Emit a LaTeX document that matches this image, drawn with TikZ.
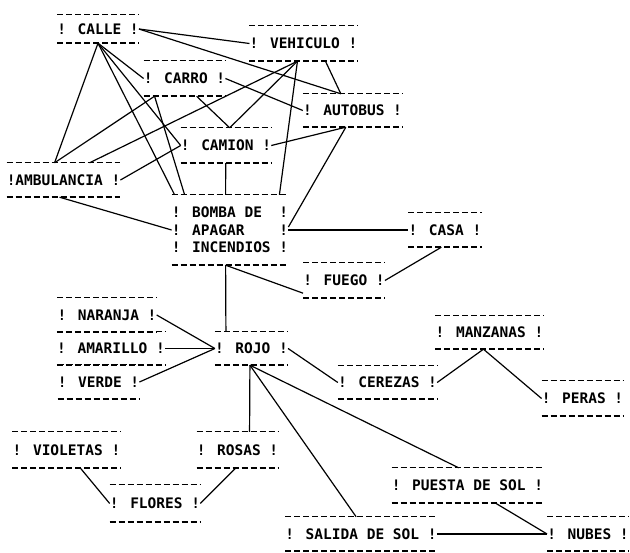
\documentclass[tikz,border=0pt]{standalone}
\usepackage{fontspec}
\newfontfamily\dotfont{DejaVu Sans Mono}
\begin{document}
\begin{tikzpicture}[x=1pt,y=-1pt,
  term/.style={inner sep=0pt, font=\dotfont\bfseries\fontsize{14.5}{17.5}\selectfont, align=center},
  sz/.style 2 args={minimum width=#1pt, minimum height=#2pt},
  link/.style={line width=1.2pt, black},
  dashrule/.style={line width=1.4pt, dash pattern=on 6pt off 3pt}]
\useasboundingbox[fill=white] (0,0) rectangle (630,553);
% nodes
\node[term, sz={78}{28}]  (calle)      at (98,29)      {! CALLE !};
\node[term, sz={103}{35}] (vehiculo)   at (303.5,43.5) {! VEHICULO !};
\node[term, sz={75}{35}]  (carro)      at (184.5,78.5) {! CARRO !};
\node[term, sz={95}{33}]  (autobus)    at (352.5,110.5){! AUTOBUS !};
\node[term, sz={86}{35}]  (camion)     at (226,145.5)  {! CAMION !};
\node[term, sz={113}{34}] (ambulancia) at (63.5,180)   {!AMBULANCIA !};
\node[term, sz={112}{70}, align=left] (bomba) at (230,230) {! BOMBA DE\ \ !\\! APAGAR\ \ \ \ !\\! INCENDIOS !};
\node[term, sz={70}{34}]  (casa)       at (445,230)    {! CASA !};
\node[term, sz={78}{35}]  (fuego)      at (344,280.5)  {! FUEGO !};
\node[term, sz={96}{34}]  (naranja)    at (107,315)    {! NARANJA !};
\node[term, sz={104}{33}] (amarillo)   at (111,348.5)  {! AMARILLO !};
\node[term, sz={69}{33}]  (rojo)       at (251.5,348.5){! ROJO !};
\node[term, sz={79}{34}]  (verde)      at (98.5,382)   {! VERDE !};
\node[term, sz={105}{33}] (manzanas)   at (489.5,332.5){! MANZANAS !};
\node[term, sz={95}{33}]  (cerezas)    at (387.5,382.5){! CEREZAS !};
\node[term, sz={79}{35}]  (peras)      at (582.5,398.5){! PERAS !};
\node[term, sz={103}{36}] (violetas)   at (66.5,450)   {! VIOLETAS !};
\node[term, sz={77}{36}]  (rosas)      at (237.5,450)  {! ROSAS !};
\node[term, sz={84}{37}]  (flores)     at (155,503.5)  {! FLORES !};
\node[term, sz={149}{35}] (puesta)     at (467.5,485.5){! PUESTA DE SOL !};
\node[term, sz={148}{34}] (salida)     at (361,534)    {! SALIDA DE SOL !};
\node[term, sz={76}{34}]  (nubes)      at (588,534)    {! NUBES !};
% dashed rules above and below each term
\foreach \n in {calle,vehiculo,carro,autobus,camion,ambulancia,bomba,casa,fuego,naranja,amarillo,rojo,verde,manzanas,cerezas,peras,violetas,rosas,flores,puesta,salida,nubes}
  \draw[dashrule] (\n.north west) -- (\n.north east) (\n.south west) -- (\n.south east);
% connectors
\draw[link] (calle.east) -- (vehiculo.west);
\draw[link] (calle.east) -- ([xshift=38pt]autobus.north west);
\draw[link] (calle.south) -- (carro.west);
\draw[link] (calle.south) -- ([xshift=48pt]ambulancia.north west);
\draw[link] (calle.south) -- (camion.west);
\draw[link] (calle.south) -- ([xshift=3pt]bomba.north west);
\draw[link] (carro.east) -- (autobus.west);
\draw[link] ([xshift=11pt]carro.south west) -- ([xshift=48pt]ambulancia.north west);
\draw[link] ([xshift=11pt]carro.south west) -- ([xshift=13pt]bomba.north west);
\draw[link] ([xshift=53pt]carro.south west) -- ([xshift=49pt]camion.north west);
\draw[link] ([xshift=48pt]vehiculo.south west) -- ([xshift=83pt]ambulancia.north west);
\draw[link] ([xshift=48pt]vehiculo.south west) -- ([xshift=49pt]camion.north west);
\draw[link] ([xshift=48pt]vehiculo.south west) -- ([xshift=-9pt]bomba.north east);
\draw[link] ([xshift=76pt]vehiculo.south west) -- ([xshift=38pt]autobus.north west);
\draw[link] (camion.east) -- ([xshift=43pt]autobus.south west);
\draw[link] ([xshift=43pt]autobus.south west) -- ([yshift=3pt]bomba.east);
\draw[link] (ambulancia.east) -- (camion.west);
\draw[link] ([xshift=45pt]camion.south west) -- ([xshift=54pt]bomba.north west);
\draw[link] ([xshift=53pt]ambulancia.south west) -- (bomba.west);
\draw[link] (bomba.east) -- (casa.west);
\draw[link] ([xshift=54pt]bomba.south west) -- ([xshift=11pt]rojo.north west);
\draw[link] ([xshift=54pt]bomba.south west) -- ([yshift=5pt]fuego.south west);
\draw[link] ([xshift=33pt]casa.south west) -- (fuego.east);
\draw[link] (naranja.east) -- (rojo.west);
\draw[link] (amarillo.east) -- (rojo.west);
\draw[link] (verde.east) -- (rojo.west);
\draw[link] (rojo.east) -- (cerezas.west);
\draw[link] ([xshift=35pt]rojo.south west) -- ([xshift=53pt]rosas.north west);
\draw[link] ([xshift=35pt]rojo.south west) -- ([xshift=67pt]puesta.north west);
\draw[link] ([xshift=35pt]rojo.south west) -- ([xshift=71pt]salida.north west);
\draw[link] ([xshift=48pt]manzanas.south west) -- (cerezas.east);
\draw[link] ([xshift=48pt]manzanas.south west) -- (peras.west);
\draw[link] ([xshift=68pt]violetas.south west) -- (flores.west);
\draw[link] ([xshift=39pt]rosas.south west) -- (flores.east);
\draw[link] ([xshift=104pt]puesta.south west) -- (nubes.west);
\draw[link] (salida.east) -- (nubes.west);
\end{tikzpicture}
\end{document}
